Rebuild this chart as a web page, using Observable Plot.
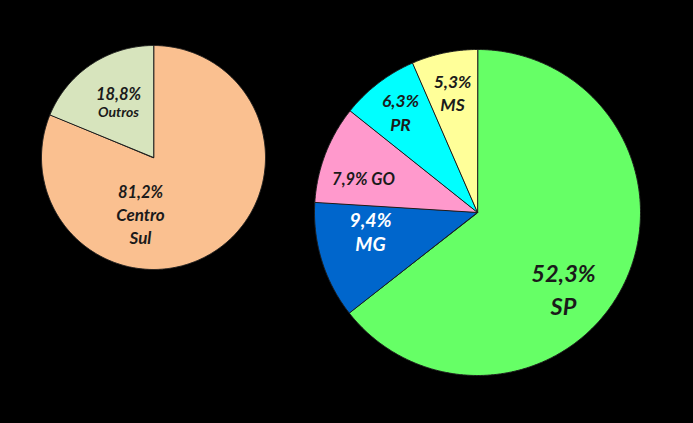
<!DOCTYPE html>
<html>
<head>
<meta charset="utf-8">
<script src="https://cdn.jsdelivr.net/npm/d3@7"></script>
<script src="https://cdn.jsdelivr.net/npm/@observablehq/plot@0.6"></script>
<style>
  html, body { margin: 0; padding: 0; background: #000; }
  #chart svg { display: block; background: #000; }
</style>
</head>
<body>
<div id="chart"></div>
<script>
// ---- data ----
const leftCategories = ["Centro Sul", "Outros"];
const leftValues = [81.2, 18.8];
const leftColors = ["#FAC090", "#D7E4BD"];

const rightCategories = ["SP", "MG", "GO", "PR", "MS"];
const rightValues = [52.3, 9.4, 7.9, 6.3, 5.3];
const rightColors = ["#66FF66", "#0066CC", "#FF99CC", "#00FFFF", "#FFFF99"];

// ---- layout (pixels) ----
const W = 693, H = 423;
const pies = {
  left:  {cx: 153, cy: 157, r: 112},
  right: {cx: 477, cy: 212, r: 163}
};
// label placement relative to pie centre: dx, dy (middle of block), font sizes, line gap
const labelLayout = {
  "Centro Sul": {dx: -13, dy: 58.5, sizes: [16.5, 17, 17], gap: 23, color: "#1a1a1a"},
  "Outros":     {dx: -35, dy: -54, sizes: [16.5, 14], gap: 18.5, color: "#1a1a1a"},
  "SP": {dx: 86, dy: 78, sizes: [23.5, 23.5], gap: 33, color: "#1a1a1a"},
  "MG": {dx: -107, dy: 20, sizes: [19.5, 19.5], gap: 24.5, color: "#ffffff"},
  "GO": {dx: -114, dy: -33, sizes: [16.5], gap: 0, color: "#1a1a1a", inline: true},
  "PR": {dx: -77, dy: -99, sizes: [17.5, 17.5], gap: 23.5, color: "#1a1a1a"},
  "MS": {dx: -25, dy: -119, sizes: [17.5, 17.5], gap: 23, color: "#1a1a1a"}
};

const fmt = v => v.toFixed(1).replace(".", ",") + "%";

function buildSlices(name, cats, vals, cols) {
  const p = pies[name];
  const arcs = d3.pie().sort(null).value(d => d)(vals);
  const pts = [];
  arcs.forEach((a, i) => {
    const id = name + "-" + cats[i];
    pts.push({id, x: p.cx, y: p.cy, fill: cols[i]});
    const n = Math.max(2, Math.ceil((a.endAngle - a.startAngle) / (Math.PI / 360)));
    for (let k = 0; k <= n; k++) {
      const t = a.startAngle + (a.endAngle - a.startAngle) * k / n;
      pts.push({id, x: p.cx + p.r * Math.sin(t), y: p.cy - p.r * Math.cos(t), fill: cols[i]});
    }
  });
  return pts;
}

function buildLabels(name, cats, vals) {
  const p = pies[name];
  const out = [];
  cats.forEach((c, i) => {
    const L = labelLayout[c];
    let lines;
    if (L.inline) lines = [fmt(vals[i]) + " " + c];
    else lines = [fmt(vals[i]), ...c.split(" ")];
    const n = lines.length;
    lines.forEach((t, j) => {
      out.push({
        text: t,
        x: p.cx + L.dx,
        y: p.cy + L.dy + (j - (n - 1) / 2) * L.gap,
        size: L.sizes[j],
        color: L.color
      });
    });
  });
  return out;
}

const slices = [
  ...buildSlices("left", leftCategories, leftValues, leftColors),
  ...buildSlices("right", rightCategories, rightValues, rightColors)
];
const labels = [
  ...buildLabels("left", leftCategories, leftValues),
  ...buildLabels("right", rightCategories, rightValues)
];

const chart = Plot.plot({
  width: W,
  height: H,
  margin: 0,
  x: {domain: [0, W], range: [0, W], axis: null},
  y: {domain: [0, H], range: [0, H], axis: null},
  color: {type: "identity"},
  style: {background: "#000", fontFamily: "Lato, 'Open Sans', sans-serif"},
  marks: [
    Plot.line(slices, {
      x: "x", y: "y", z: "id", fill: "fill",
      stroke: "#1c1c1c", strokeWidth: 1, curve: "linear-closed"
    }),
    Plot.text(labels, {
      x: "x", y: "y", text: "text", fontSize: "size", fill: "color",
      fontWeight: "bold", fontStyle: "italic", textAnchor: "middle",
      lineAnchor: "middle", fontFamily: "Lato, 'Open Sans', sans-serif"
    })
  ]
});
document.getElementById("chart").appendChild(chart);
</script>
</body>
</html>
